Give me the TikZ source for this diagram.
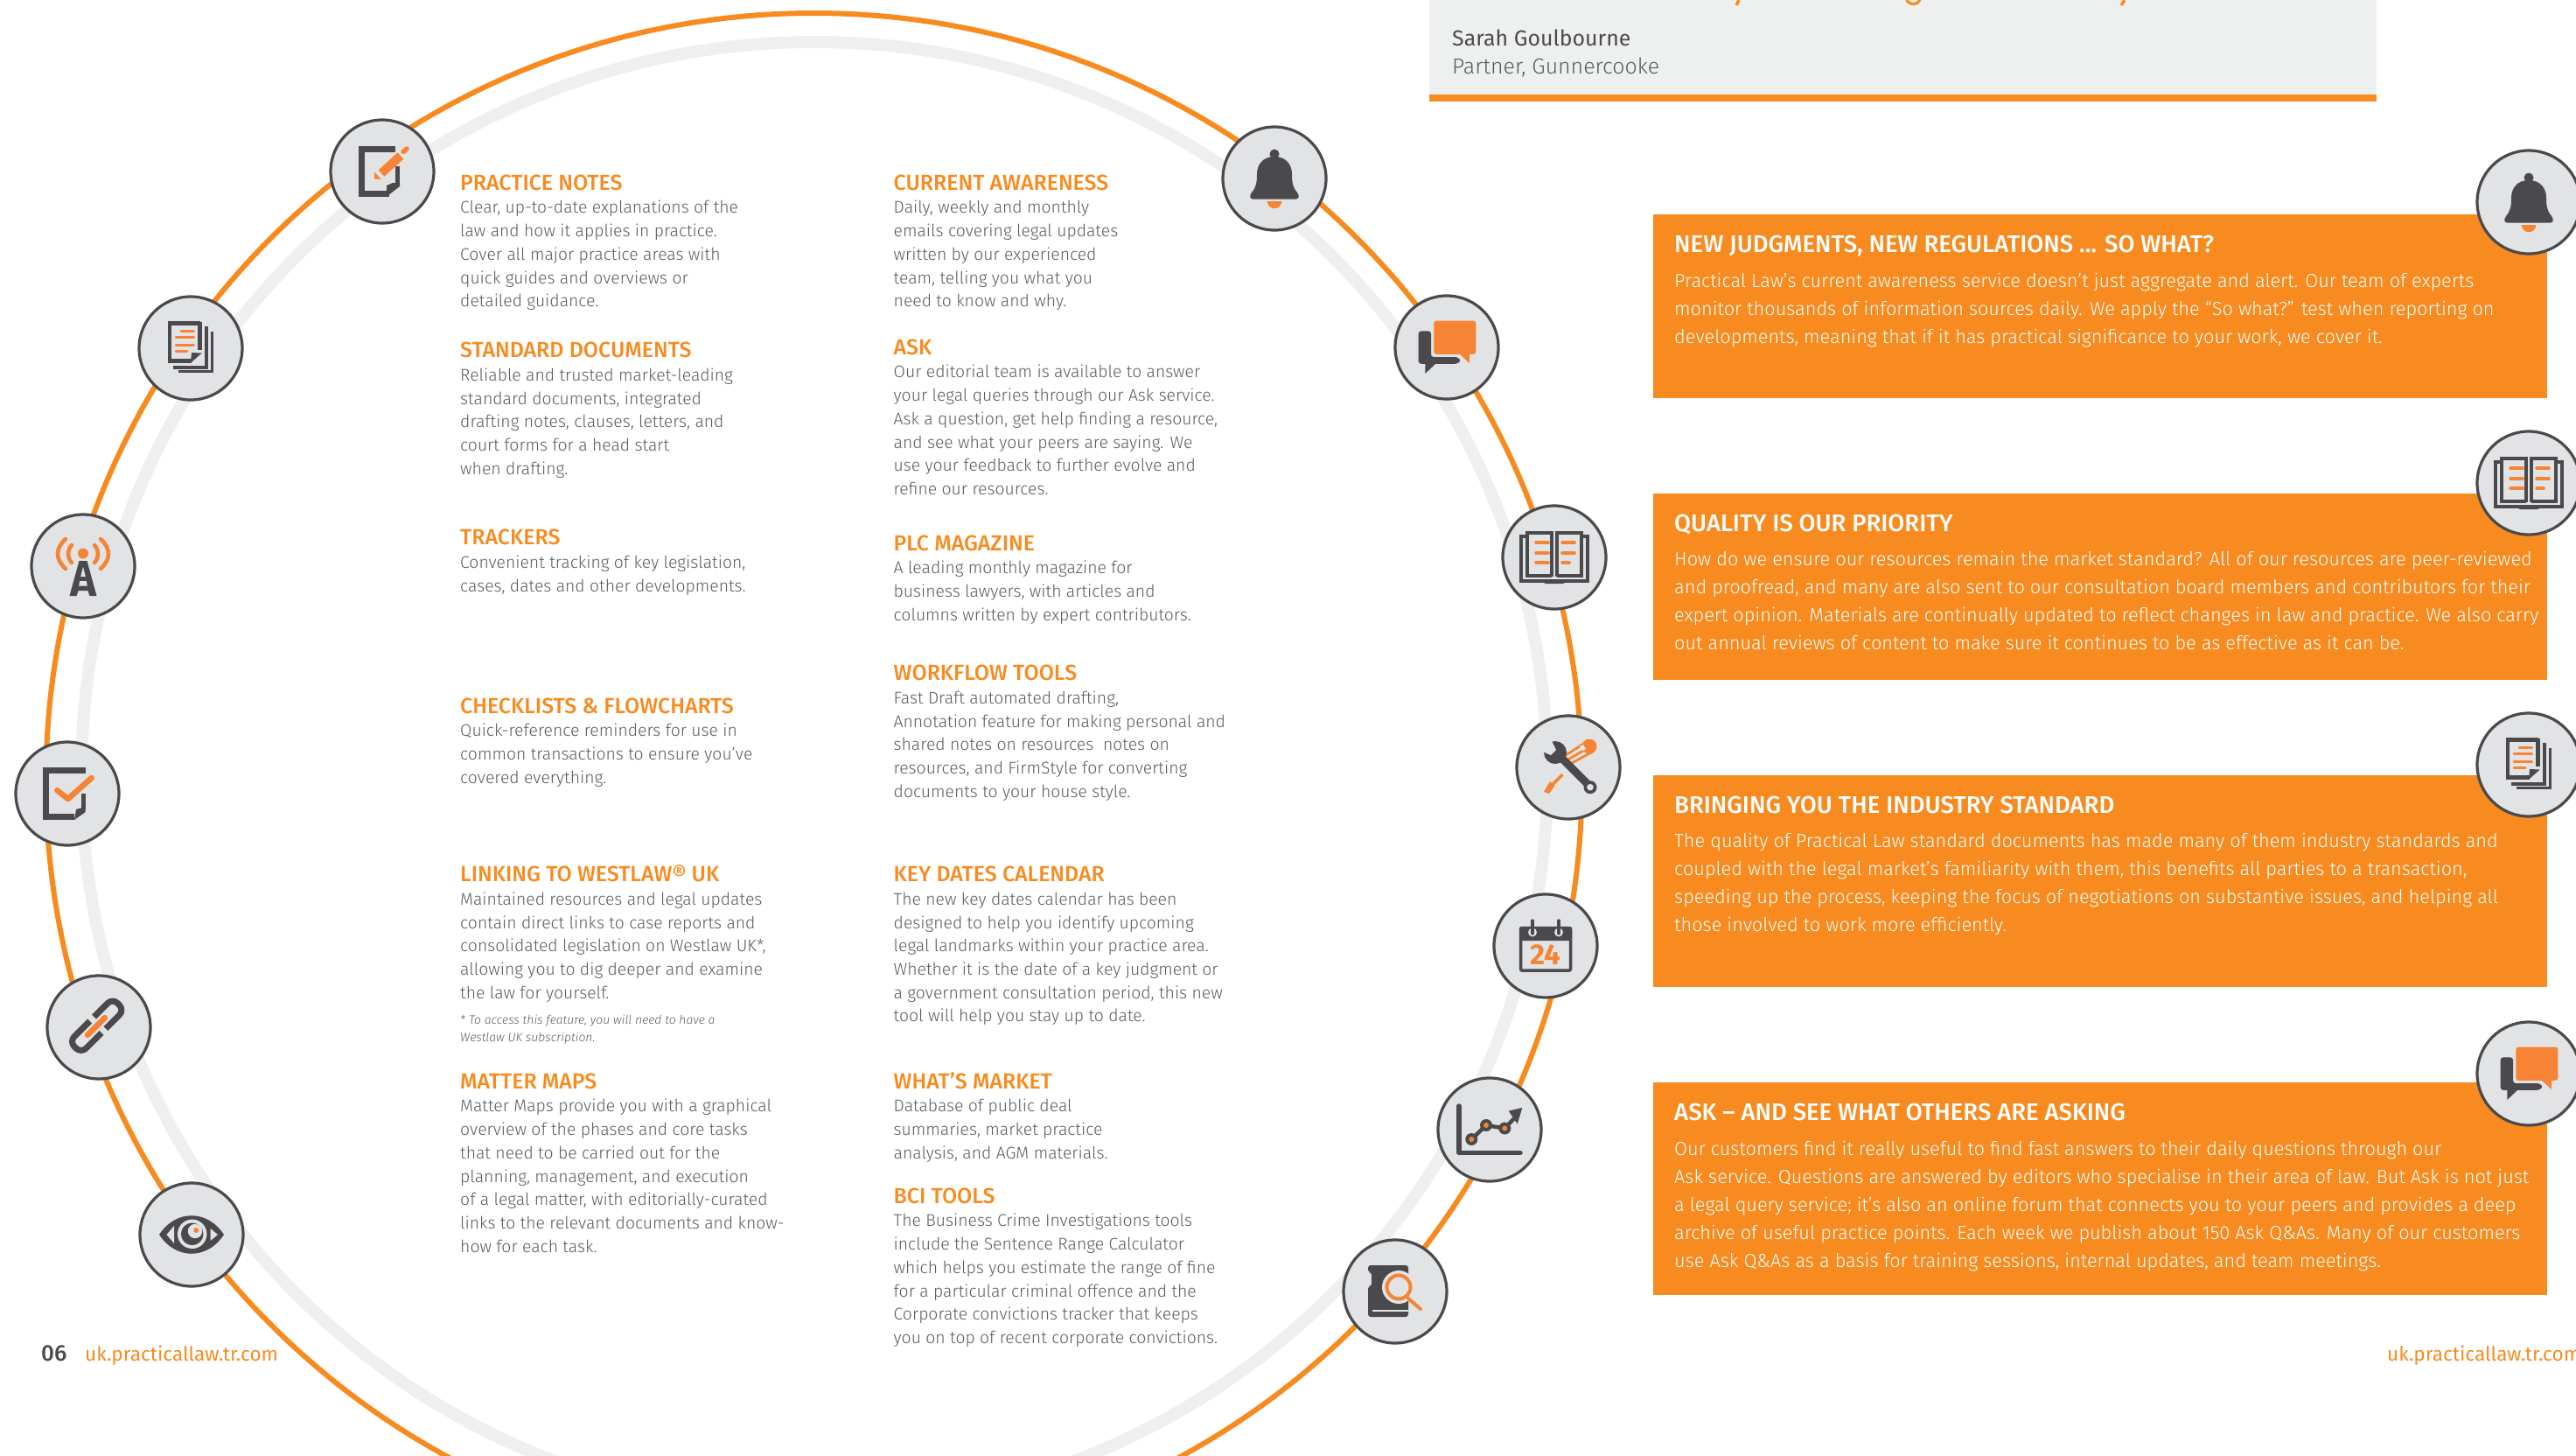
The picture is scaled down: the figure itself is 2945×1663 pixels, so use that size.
\documentclass[tikz,border=0pt]{standalone}
\usepackage{fontspec}
\setmainfont{Fira Sans}
\newfontfamily\bodyfont[ItalicFont={Fira Sans Light Italic},BoldFont={Fira Sans Medium}]{Fira Sans Light}
\newfontfamily\headfont{Fira Sans Medium}
\newfontfamily\numfont{Fira Sans Bold}
\definecolor{brandorange}{HTML}{F78B20}
\definecolor{iconorange}{HTML}{F68434}
\definecolor{icondark}{HTML}{4A4A4C}
\definecolor{iconlight}{HTML}{E2E3E5}
\definecolor{ringgrey}{HTML}{EEF0EF}
\definecolor{bodygrey}{HTML}{5A5B5D}
\tikzset{
  x=1pt,y=-1pt,
  ringorange/.style={draw=brandorange,line width=6pt},
  ringpale/.style={draw=ringgrey,line width=14pt},
  iconcircle/.style={circle,draw=icondark,line width=3.2pt,fill=iconlight,minimum size=118pt,inner sep=0pt},
  infoblock/.style={anchor=north west,inner sep=0pt,align=left,text=bodygrey,font=\bodyfont\fontsize{19.35}{26.7}\selectfont},
  footnoteblock/.style={anchor=north west,inner sep=0pt,align=left,text=bodygrey,font=\bodyfont\itshape\fontsize{13.9}{20.6}\selectfont},
  panelblock/.style={anchor=north west,inner sep=0pt,align=left,text=white,font=\bodyfont\fontsize{21.7}{32}\selectfont},
  panelbox/.style={fill=brandorange,draw=none},
  dk/.style={draw=icondark,line join=miter},
  og/.style={draw=iconorange,line cap=round},
}
% text blocks: name, x, baseline of first line, heading, body
\newcommand{\infotext}[5]{\node[infoblock] (#1) at (#2,{#3-26}) {\rule{0pt}{26pt}{\headfont\fontsize{24.9}{26.7}\selectfont\color{brandorange}#4}\\#5};}
\newcommand{\paneltext}[5]{%
  \node[anchor=north west,inner sep=0pt,text=white,font=\headfont\fontsize{27.5}{32}\selectfont] (#1h) at (1914,{#2-26.5}) {\rule{0pt}{28pt}#3};
  \node[panelblock] (#1b) at (1914,{#4-22}) {\rule{0pt}{22pt}#5};}
% icons, drawn about the origin
\newcommand{\icoNote}{%
  \draw[dk,line width=7pt] (15,-26)--(-23.8,-26)--(-23.8,25.2)--(8,25.2);
  \draw[dk,line width=5pt] (17.5,-6)--(17.5,14);
  \fill[icondark] (5,28.7)--(20,17)--(20,13)--(12,13)--(5,16)--cycle;
  \draw[draw=iconorange,line width=10pt] (-1,2)--(21,-18);
  \draw[og,line width=5.5pt] (24,-22.5)--(28,-26);
  \fill[iconorange] (-9,8.5)--(-9,0.5)--(-1.5,8.5)--cycle;}
\newcommand{\icoDocs}{%
  \draw[dk,line width=4.4pt] (10.5,-28.5)--(-24.2,-28.5)--(-24.2,14.6)--(1,14.6);
  \draw[dk,line width=4.4pt] (10.5,-30)--(10.5,2);
  \fill[icondark] (0,16.8)--(12.7,5.5)--(1,5)--cycle;
  \draw[dk,line width=3.6pt] (17.8,-25)--(17.8,22)--(-20,22);
  \draw[dk,line width=3.6pt] (24.4,-19)--(24.4,26.5)--(-14,26.5);
  \draw[og,line width=3pt] (-11,-20)--(3.5,-20);
  \draw[og,line width=3pt] (-17,-12.5)--(3.5,-12.5);
  \draw[og,line width=3pt] (-17,-3.8)--(3.5,-3.8);
  \draw[og,line width=3pt] (-17,3.8)--(-4,3.8);}
\newcommand{\icoTower}{%
  \fill[iconorange] (0,-14.5) circle[radius=6];
  \draw[og,line width=4.6pt] (-13,-24) .. controls (-18.5,-18) and (-18.5,-10) .. (-13,-4);
  \draw[og,line width=4.6pt] (13,-24) .. controls (18.5,-18) and (18.5,-10) .. (13,-4);
  \draw[og,line width=4.6pt] (-20,-31) .. controls (-32,-20) and (-32,-8) .. (-20,3);
  \draw[og,line width=4.6pt] (20,-31) .. controls (32,-20) and (32,-8) .. (20,3);
  \fill[icondark] (-4.5,-6)--(4.5,-6)--(15.5,34)--(7.5,34)--(5.5,28)--(-5.5,28)--(-7.5,34)--(-15.5,34)--cycle;
  \fill[iconlight] (0,1)--(2.8,12)--(-2.8,12)--cycle;
  \fill[iconlight] (-3.8,17)--(3.8,17)--(4.8,22.5)--(-4.8,22.5)--cycle;}
\newcommand{\icoCheck}{%
  \draw[dk,line width=7pt] (20.7,-26.5)--(-24.8,-26.5)--(-24.8,26.5)--(8,26.5);
  \draw[dk,line width=5pt] (18.2,0)--(18.2,18);
  \fill[icondark] (8,30)--(20.7,21)--(20.7,15)--(10,18)--cycle;
  \draw[draw=iconlight,line width=11pt] (-11.7,-3.8)--(0.7,7)--(27.7,-18);
  \draw[og,line join=round,line width=6.5pt] (-11.7,-3.8)--(0.7,6)--(27.7,-18);}
\newcommand{\icoLink}{%
  \begin{scope}[shift={(-3,-1)},rotate=45]
    \draw[dk,line width=7pt,rounded corners=8pt] (-1,-9.5)--(-34,-9.5)--(-34,9.5)--(-1,9.5);
    \draw[dk,line width=7pt,rounded corners=8pt] (6,-9.5)--(36,-9.5)--(36,9.5)--(6,9.5);
    \draw[og,line width=6.5pt] (-14,0)--(14,0);
  \end{scope}}
\newcommand{\icoEye}{%
  \fill[icondark] (-37,0) .. controls (-18,-29) and (18,-29) .. (37,0) .. controls (18,29) and (-18,29) .. (-37,0) -- cycle;
  \fill[iconlight] (-28.5,0)--(-20,-10)--(-20,10)--cycle;
  \fill[iconlight] (30,0)--(21.5,-7)--(21.5,7)--cycle;
  \fill[iconlight] (0.7,-0.7) circle[radius=16.7];
  \fill[icondark] (0.7,-0.7) circle[radius=12.8];
  \fill[iconlight] (4,-4) circle[radius=8.2];
  \fill[iconorange] (5.3,-5) circle[radius=3];}
\newcommand{\icoBell}{%
  \fill[icondark] (0,-28) circle[radius=5.5];
  \fill[icondark] (0,-25) .. controls (-14,-25) and (-20,-15) .. (-20,-5)
     .. controls (-20,5) and (-21,10) .. (-26,16) .. controls (-29,20) and (-28,23.7) .. (-24,23.7)
     -- (24,23.7) .. controls (28,23.7) and (29,20) .. (26,16)
     .. controls (21,10) and (20,5) .. (20,-5) .. controls (20,-15) and (14,-25) .. (0,-25) -- cycle;
  \fill[iconorange] (-8.5,26) .. controls (-7,37) and (7,37) .. (8.5,26) -- cycle;}
\newcommand{\icoChat}{%
  \fill[icondark,rounded corners=3pt] (-32.3,-18.6)--(-18,-18.6)--(-18,11)--(12,11)--(16.5,15)--(12,18.8)--(-32.3,18.8)--cycle;
  \fill[icondark] (-24.7,18)--(-24.7,30)--(-12,18)--cycle;
  \draw[iconlight,line width=4pt,fill=iconorange,rounded corners=3pt] (-14.7,-30.4) rectangle (33.3,7.9);
  \fill[iconorange,rounded corners=3pt] (-14.7,-30.4) rectangle (33.3,7.9);
  \fill[iconorange] (14,7)--(26,18)--(26,7)--cycle;}
\newcommand{\icoBook}{%
  \draw[dk,line width=4pt] (-31,-24)--(-38,-24)--(-38,27)--(38,27)--(38,-24)--(31,-24);
  \draw[dk,line width=4pt] (-3,22)--(-3,-28)--(-31,-28)--(-31,21)--(-3,21);
  \draw[dk,line width=4pt] (3,22)--(3,-28)--(31,-28)--(31,21)--(3,21);
  \fill[icondark,rounded corners=2pt] (-12,25)--(12,25)--(12,30)--(-12,30)--cycle;
  \foreach \yy in {-17,-5,6} {\draw[og,line width=3.6pt] (-21,\yy)--(-7,\yy);}
  \foreach \yy in {-17,-5} {\draw[og,line width=3.6pt] (9,\yy)--(23,\yy);}
  \draw[og,line width=3.6pt] (9,6)--(17,6);}
\newcommand{\icoTools}{%
  \draw[og,line width=2.8pt,line cap=butt] (-6,-12)--(19,-28);
  \draw[og,line width=2.8pt,line cap=butt] (-2,-8)--(24,-23);
  \draw[og,line width=2.8pt,line cap=butt] (2,-4)--(28,-18);
  \fill[iconorange] (24,-24) circle[radius=8.5];
  \fill[iconlight] (17,-26)--(20,-21)--(16,-19)--(13,-24)--cycle;
  \draw[draw=iconorange,line width=3.5pt] (-20,21.7)--(-6.7,8.3);
  \fill[iconorange] (-28,28)--(-21,16)--(-15.5,21)--(-22,30)--cycle;
  \fill[icondark] (-15,-17) circle[radius=13];
  \fill[iconlight] (-20,-32)--(-14,-20)--(-20,-14)--(-32,-19)--(-30,-30)--cycle;
  \draw[dk,line width=9pt] (-10,-13)--(22,19);
  \fill[icondark] (25,22.7) circle[radius=7.5];
  \fill[iconlight] (25,22.7) circle[radius=3.8];}
\newcommand{\icoCalendar}{%
  \draw[dk,line width=3.5pt,rounded corners=2pt] (-28.5,-20.5) rectangle (28.5,28.2);
  \fill[icondark,rounded corners=2pt] (-30,-22)--(30,-22)--(30,-6)--(-30,-6)--cycle;
  \foreach \xx in {-15,15} {
    \fill[iconlight] (\xx,-15.5) circle[radius=5];
    \draw[dk,line width=3.2pt,line cap=round] (\xx,-29)--(\xx,-14);}
  \node[text=iconorange,inner sep=0pt,font=\numfont\fontsize{33}{33}\selectfont] (calnum) at (0,10.5) {24};}
\newcommand{\icoChart}{%
  \draw[dk,line width=5.5pt,line cap=round,line join=round] (-35,-27)--(-35,26.6)--(35,26.6);
  \draw[dk,line width=4.5pt] (-20.7,11)--(-4,-5)--(17.3,-1.5)--(30,-15);
  \fill[icondark] (37.3,-25)--(21.7,-21.4)--(31.7,-6.5)--cycle;
  \foreach \px/\py in {-20.7/11,-4/-5,17.3/-1.5} {
    \fill[icondark] (\px,\py) circle[radius=7];
    \fill[iconorange] (\px,\py) circle[radius=3];}}
\newcommand{\icoSearch}{%
  \fill[icondark,rounded corners=3pt] (-31,-30)--(15,-30)--(15,29)--(-31,29)--(-31,-6)--(-27,-6)--(-27,-22)--(-31,-22)--cycle;
  \draw[iconlight,line width=1.6pt] (-26,21.7)--(15,21.7);
  \fill[iconlight] (4,-5) circle[radius=19];
  \fill[iconlight] (15.5,-16)--(15.5,10)--(22,10)--(22,-16)--cycle;
  \draw[draw=iconorange,line width=4pt] (4,-5) circle[radius=13.5];
  \draw[og,line width=4pt] (15,8)--(29,20);}
\newcommand{\placed}[3]{\begin{scope}[shift={(#1,#2)}]#3\end{scope}}
\begin{document}
\begin{tikzpicture}[x=1pt,y=-1pt]
\useasboundingbox (0,0) rectangle (2945,1663);
\clip (0,0) rectangle (2945,1663);
\path[ringpale] (931,886) circle[radius=838];
\path[ringorange] (930.5,893) circle[radius=878];
% header panel
\fill[ringgrey] (1634,0) rectangle (2717,108);
\fill[brandorange] (1634,108) rectangle (2717,116);
\draw[draw=brandorange,line width=3.5pt] (1988,0)--(1985,6);
\draw[draw=brandorange,line width=3.2pt,line cap=round] (2180,1) .. controls (2184,6) and (2192,6) .. (2195,0);
\draw[draw=brandorange,line width=3.5pt] (2429,0)--(2425,6);
\node[anchor=base west,inner sep=0pt,text=icondark,font=\fontsize{24.9}{30}\selectfont] (sarah) at (1660,52) {Sarah Goulbourne};
\node[anchor=base west,inner sep=0pt,text=bodygrey,font=\bodyfont\fontsize{24.9}{30}\selectfont] (partner) at (1660,84) {Partner, Gunnercooke};
% left column
\infotext{tPractice}{526}{217}{PRACTICE NOTES}{Clear, up-to-date explanations of the\\law and how it applies in practice.\\Cover all major practice areas with\\quick guides and overviews or\\detailed guidance.}
\infotext{tStandard}{526}{408.5}{STANDARD DOCUMENTS}{Reliable and trusted market-leading\\standard documents, integrated\\drafting notes, clauses, letters, and\\court forms for a head start\\when drafting.}
\infotext{tTrackers}{526}{622.5}{TRACKERS}{Convenient tracking of key legislation,\\cases, dates and other developments.}
\infotext{tCheck}{526}{815}{CHECKLISTS \& FLOWCHARTS}{Quick-reference reminders for use in\\common transactions to ensure you’ve\\covered everything.}
\infotext{tLink}{526}{1007.5}{LINKING TO WESTLAW® UK}{Maintained resources and legal updates\\contain direct links to case reports and\\consolidated legislation on Westlaw UK*,\\allowing you to dig deeper and examine\\the law for yourself.}
\node[footnoteblock] (tNote) at (526,1156) {\rule{0pt}{14pt}* To access this feature, you will need to have a\\Westlaw UK subscription.};
\infotext{tMatter}{526}{1244}{MATTER MAPS}{Matter Maps provide you with a graphical\\overview of the phases and core tasks\\that need to be carried out for the\\planning, management, and execution\\of a legal matter, with editorially-curated\\links to the relevant documents and know-\\how for each task.}
% right column
\infotext{tCurrent}{1021.5}{217}{CURRENT AWARENESS}{Daily, weekly and monthly\\emails covering legal updates\\written by our experienced\\team, telling you what you\\need to know and why.}
\infotext{tAsk}{1021.5}{405}{ASK}{Our editorial team is available to answer\\your legal queries through our Ask service.\\Ask a question, get help finding a resource,\\and see what your peers are saying. We\\use your feedback to further evolve and\\refine our resources.}
\infotext{tPLC}{1021.5}{629}{PLC MAGAZINE}{A leading monthly magazine for\\business lawyers, with articles and\\columns written by expert contributors.}
\infotext{tWork}{1021.5}{777.5}{WORKFLOW TOOLS}{Fast Draft automated drafting,\\Annotation feature for making personal and\\shared notes on resources\ \ notes on\\resources, and FirmStyle for converting\\documents to your house style.}
\infotext{tKey}{1021.5}{1007.5}{KEY DATES CALENDAR}{The new key dates calendar has been\\designed to help you identify upcoming\\legal landmarks within your practice area.\\Whether it is the date of a key judgment or\\a government consultation period, this new\\tool will help you stay up to date.}
\infotext{tMarket}{1021.5}{1244}{WHAT’S MARKET}{Database of public deal\\summaries, market practice\\analysis, and AGM materials.}
\infotext{tBCI}{1021.5}{1375}{BCI TOOLS}{The Business Crime Investigations tools\\include the Sentence Range Calculator\\which helps you estimate the range of fine\\for a particular criminal offence and the\\Corporate convictions tracker that keeps\\you on top of recent corporate convictions.}
% orange panels
\fill[panelbox] (1890,245) rectangle (2912,455);
\fill[panelbox] (1890,564) rectangle (2912,777);
\fill[panelbox] (1890,886) rectangle (2912,1127.5);
\fill[panelbox] (1890,1237) rectangle (2912,1480);
\paneltext{p1}{287}{NEW JUDGMENTS, NEW REGULATIONS ... SO WHAT?}{328}{Practical Law’s current awareness service doesn’t just aggregate and alert. Our team of experts\\monitor thousands of information sources daily. We apply the “So what?” test when reporting on\\developments, meaning that if it has practical significance to your work, we cover it.}
\paneltext{p2}{605.5}{QUALITY IS OUR PRIORITY}{646}{How do we ensure our resources remain the market standard? All of our resources are peer-reviewed\\and proofread, and many are also sent to our consultation board members and contributors for their\\expert opinion. Materials are continually updated to reflect changes in law and practice. We also carry\\out annual reviews of content to make sure it continues to be as effective as it can be.}
\paneltext{p3}{928}{BRINGING YOU THE INDUSTRY STANDARD}{968}{The quality of Practical Law standard documents has made many of them industry standards and\\coupled with the legal market’s familiarity with them, this benefits all parties to a transaction,\\speeding up the process, keeping the focus of negotiations on substantive issues, and helping all\\those involved to work more efficiently.}
\paneltext{p4}{1279}{ASK – AND SEE WHAT OTHERS ARE ASKING}{1320}{Our customers find it really useful to find fast answers to their daily questions through our\\Ask service. Questions are answered by editors who specialise in their area of law. But Ask is not just\\a legal query service; it’s also an online forum that connects you to your peers and provides a deep\\archive of useful practice points. Each week we publish about 150 Ask Q\&As. Many of our customers\\use Ask Q\&As as a basis for training sessions, internal updates, and team meetings.}
% footer
\node[anchor=base west,inner sep=0pt,text=icondark,font=\headfont\fontsize{26}{28}\selectfont] (pageno) at (47,1555) {06};
\node[anchor=base west,inner sep=0pt,text=brandorange,font=\fontsize{22.6}{28}\selectfont] (urlL) at (97,1555) {uk.practicallaw.tr.com};
\node[anchor=base west,inner sep=0pt,text=brandorange,font=\fontsize{22.6}{28}\selectfont] (urlR) at (2729,1555) {uk.practicallaw.tr.com};
% icon circles
\node[iconcircle] (cNote) at (437,196) {};     \placed{437}{196}{\icoNote}
\node[iconcircle] (cDocs) at (218,398) {};     \placed{218}{398}{\icoDocs}
\node[iconcircle] (cTower) at (95,647) {};     \placed{95}{647}{\icoTower}
\node[iconcircle] (cCheck) at (77,907) {};     \placed{77}{907}{\icoCheck}
\node[iconcircle] (cLink) at (113,1174) {};    \placed{113}{1174}{\icoLink}
\node[iconcircle] (cEye) at (219,1411) {};     \placed{219}{1411}{\icoEye}
\node[iconcircle] (cBell) at (1457,204) {};    \placed{1457}{204}{\icoBell}
\node[iconcircle] (cChat) at (1654,397) {};    \placed{1654}{397}{\icoChat}
\node[iconcircle] (cBook) at (1777,637) {};    \placed{1777}{637}{\icoBook}
\node[iconcircle] (cTools) at (1793,877) {};   \placed{1793}{877}{\icoTools}
\node[iconcircle] (cCal) at (1767,1081) {};    \placed{1767}{1081}{\icoCalendar}
\node[iconcircle] (cChart) at (1703,1291) {};  \placed{1703}{1291}{\icoChart}
\node[iconcircle] (cSearch) at (1595,1476) {}; \placed{1595}{1476}{\icoSearch}
\node[iconcircle] (rBell) at (2891,231) {};    \placed{2891}{231}{\icoBell}
\node[iconcircle] (rBook) at (2891,552) {};    \placed{2891}{552}{\icoBook}
\node[iconcircle] (rDocs) at (2891,874) {};    \placed{2891}{874}{\icoDocs}
\node[iconcircle] (rChat) at (2891,1227) {};   \placed{2891}{1227}{\icoChat}
\end{tikzpicture}
\end{document}
